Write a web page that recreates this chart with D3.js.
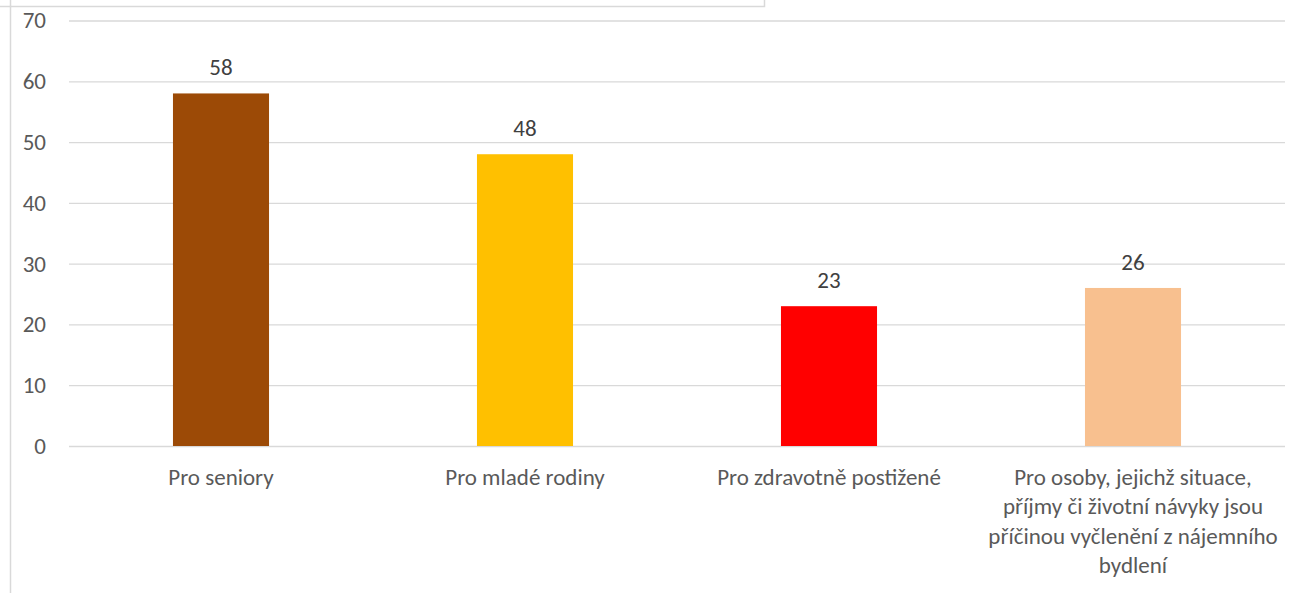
<!DOCTYPE html>
<html><head><meta charset="utf-8">
<script src="https://cdn.jsdelivr.net/npm/d3@7"></script>
<style>
html,body{margin:0;padding:0;background:#fff;}
svg{display:block;font-family:Carlito,Calibri,Lato,sans-serif;}
</style></head>
<body>
<svg id="c" width="1311" height="593"></svg>
<script>
const categories = ["Pro seniory","Pro mladé rodiny","Pro zdravotně postižené","Pro osoby, jejichž situace,\npříjmy či životní návyky jsou\npříčinou vyčlenění z nájemního\nbydlení"];
const values = [58,48,23,26];
const colors = ["#9C4A06","#FFC000","#FF0000","#F8C08F"];
const yTicks = [0,10,20,30,40,50,60,70];

const svg = d3.select("#c");
const x = d3.scaleBand().domain(categories).range([69,1285]).paddingInner(0.684).paddingOuter(0.342);
const y = d3.scaleLinear().domain([0,70]).range([446,20.5]);

// frame
svg.append("path").attr("d","M10.5,0 V593 M0,6.5 H764.5 V0").attr("fill","none").attr("stroke","#d9d9d9").attr("stroke-width",1.5);

// grid
const yAxis = d3.axisLeft(y).tickValues(yTicks).tickSize(-(1285-69)).tickPadding(23);
const gy = svg.append("g").attr("transform","translate(69,0)").call(yAxis);
gy.select(".domain").remove();
gy.selectAll(".tick line").attr("stroke","#d9d9d9").attr("stroke-width",1.3);
gy.selectAll(".tick text").attr("fill","#595959").style("font-size","23px").style("font-family","Carlito,Calibri,Lato,sans-serif");

// bars
svg.selectAll("rect.bar").data(values).join("rect").attr("class","bar")
  .attr("x",(d,i)=>x(categories[i])).attr("width",x.bandwidth())
  .attr("y",d=>y(d)).attr("height",d=>y(0)-y(d)).attr("fill",(d,i)=>colors[i]);

// value labels
svg.selectAll("text.val").data(values).join("text").attr("class","val")
  .attr("x",(d,i)=>x(categories[i])+x.bandwidth()/2).attr("y",d=>y(d)-18)
  .attr("text-anchor","middle").attr("fill","#404040").style("font-size","23px").text(d=>d);

// category labels
const gl = svg.selectAll("text.cat").data(categories).join("text").attr("class","cat")
  .attr("x",d=>x(d)+x.bandwidth()/2).attr("y",485)
  .attr("text-anchor","middle").attr("fill","#595959").style("font-size","23px");
gl.each(function(d){
  const t=d3.select(this); const cx=x(d)+x.bandwidth()/2;
  d.split("\n").forEach((ln,k)=>t.append("tspan").attr("x",cx).attr("dy",k===0?0:29.3).text(ln));
});
</script>
</body></html>
